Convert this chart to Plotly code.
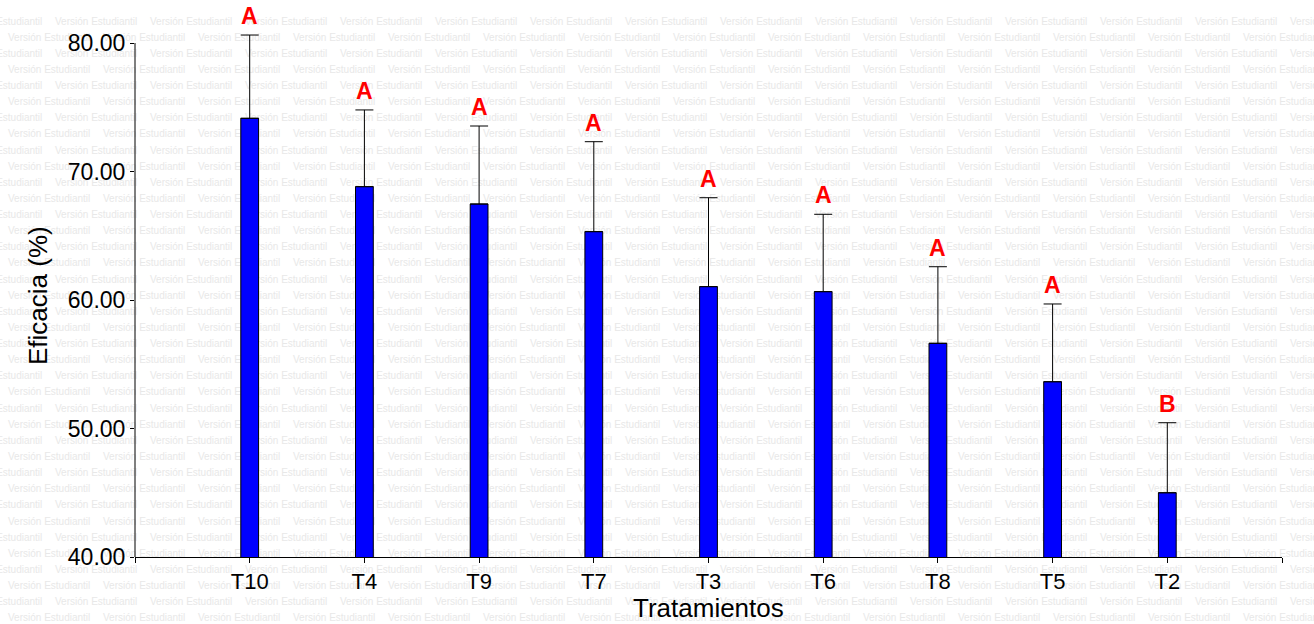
import plotly.graph_objects as go

# ---- data ----
categories = ["T10", "T4", "T9", "T7", "T3", "T6", "T8", "T5", "T2"]
eficacia = [74.14, 68.82, 67.47, 65.32, 61.04, 60.65, 56.63, 53.64, 45.00]
error_sup = [6.48, 5.97, 6.07, 7.00, 6.92, 6.02, 5.96, 6.05, 5.45]
letras = ["A", "A", "A", "A", "A", "A", "A", "A", "B"]
y_ticks = [40, 50, 60, 70, 80]

W, H = 1314, 624
x_pos = list(range(1, len(categories) + 1))

fig = go.Figure()

# ---- watermark (background, full-paper axes) ----
wm_x, wm_y = [], []
row_pitch = 16.13
col_pitch = 95
for k in range(38):
    yy = 22 + k * row_pitch
    start = -38 if k % 2 == 0 else 10
    xx = start
    while xx < W:
        wm_x.append(xx - 2)
        wm_y.append(yy)
        xx += col_pitch
fig.add_trace(go.Scatter(
    x=wm_x, y=wm_y, mode="text", text=["Versión Estudiantil"] * len(wm_x),
    textposition="middle right",
    textfont=dict(family="Liberation Sans, Arial", size=10, color="#e8e8e8"),
    hoverinfo="skip", showlegend=False, xaxis="x", yaxis="y",
))

# ---- bars ----
fig.add_trace(go.Bar(
    x=x_pos, y=eficacia, width=0.155,
    marker=dict(color="#0000ff", line=dict(color="black", width=1)),
    error_y=dict(type="data", symmetric=False, array=error_sup,
                 arrayminus=[0] * len(error_sup),
                 color="black", thickness=1, width=9),
    showlegend=False, xaxis="x2", yaxis="y2",
))

# letters above error bars
for xi, v, e, l in zip(x_pos, eficacia, error_sup, letras):
    fig.add_annotation(x=xi, y=v + e, xref="x2", yref="y2", text=l,
                       showarrow=False, yanchor="bottom", yshift=4,
                       font=dict(family="Liberation Sans, Arial", size=23,
                                 color="#ff0000", weight="bold"))

x0, x1 = 135, 1282
y_bot = 557
px_per_unit = 12.85
y_max = 82
y_top = y_bot - (y_max - 40) * px_per_unit

fig.update_layout(
    width=W, height=H, autosize=False,
    margin=dict(l=0, r=0, t=0, b=0),
    paper_bgcolor="white", plot_bgcolor="rgba(0,0,0,0)",
    font=dict(family="Liberation Sans, Arial", color="black"),
    xaxis=dict(domain=[0, 1], range=[0, W], visible=False, fixedrange=True),
    yaxis=dict(domain=[0, 1], range=[H, 0], visible=False, fixedrange=True),
    xaxis2=dict(domain=[x0 / W, x1 / W], range=[0, 10], anchor="y2",
                tickvals=[0] + x_pos + [10], ticktext=[""] + categories + [""],
                showline=True, linecolor="black", linewidth=1,
                ticks="outside", ticklen=5, tickcolor="black",
                tickfont=dict(size=22), showgrid=False, zeroline=False,
                automargin=False),
    yaxis2=dict(domain=[1 - y_bot / H, 1 - y_top / H], range=[40, y_max],
                anchor="x2", tickvals=y_ticks, tickformat=".2f",
                showline=False,
                ticks="outside", ticklen=4, tickcolor="black",
                tickfont=dict(size=23), showgrid=False, zeroline=False,
                automargin=False),
)

# y axis line only from 40 to 80
fig.add_shape(type="line", xref="x2 domain", yref="y2", x0=0, x1=0,
              y0=y_ticks[0], y1=y_ticks[-1], line=dict(color="black", width=1))

# axis titles
fig.add_annotation(x=708 / W, y=1 - 608 / H, xref="paper", yref="paper",
                   text="Tratamientos", showarrow=False,
                   font=dict(size=26), xanchor="center", yanchor="middle")
fig.add_annotation(x=38 / W, y=1 - 296 / H, xref="paper", yref="paper",
                   text="Eficacia (%)", showarrow=False, textangle=-90,
                   font=dict(size=26), xanchor="center", yanchor="middle")

fig.write_html("out.html", config={"displayModeBar": False},
               post_script="document.body.style.margin='0';")
